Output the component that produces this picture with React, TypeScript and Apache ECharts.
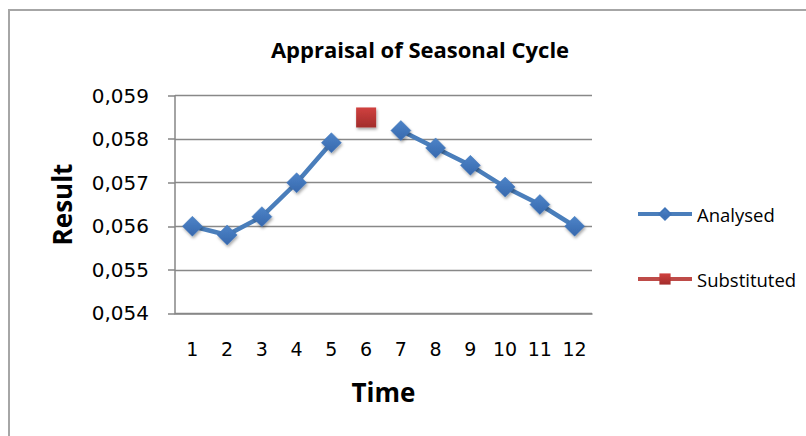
import React, { useEffect, useRef } from "react";
import * as echarts from "echarts";

const categories = ["1", "2", "3", "4", "5", "6", "7", "8", "9", "10", "11", "12"];
const analysed = [0.056, 0.0558, 0.05622, 0.057, 0.05792, null, 0.0582, 0.0578, 0.0574, 0.0569, 0.0565, 0.056];
const substituted = [null, null, null, null, null, 0.0585, null, null, null, null, null, null];
const yMin = 0.054;
const yMax = 0.059;
const yStep = 0.001;

export default function App() {
  const ref = useRef<HTMLDivElement>(null);
  useEffect(() => {
    if (!ref.current) return;
    const chart = echarts.init(ref.current, undefined, { renderer: "svg" });
    const blue = "#4a7ebb";
    chart.setOption({
      animation: false,
      backgroundColor: "#ffffff",
      graphic: [
        {
          type: "rect",
          shape: { x: 9, y: 10, width: 900, height: 500 },
          style: { fill: "none", stroke: "#a6a6a6", lineWidth: 2 },
          z: -1,
        },
      ],
      title: {
        text: "Appraisal of Seasonal Cycle",
        left: 415,
        textAlign: "center",
        top: 33,
        textStyle: { fontFamily: "Open Sans", fontWeight: "bold", fontSize: 22, color: "#000" },
      },
      grid: { left: 175, top: 95.7, right: 214, bottom: 122.7, containLabel: false },
      legend: {
        orient: "vertical",
        left: 636,
        top: 204,
        padding: 0,
        itemWidth: 54,
        itemHeight: 14,
        itemGap: 45,
        lineStyle: { width: 4 },
        textStyle: { fontFamily: "Open Sans", fontSize: 18.5, color: "#000", lineHeight: 20 },
        data: ["Analysed", "Substituted"],
      },
      xAxis: {
        type: "category",
        data: categories,
        boundaryGap: true,
        name: "Time",
        nameLocation: "middle",
        nameGap: 66,
        nameTextStyle: { fontFamily: "Open Sans", fontWeight: "bold", fontSize: 26, color: "#000" },
        axisLine: { lineStyle: { color: "#868686", width: 1.5 } },
        axisTick: { show: false },
        axisLabel: { fontFamily: "DejaVu Sans", fontSize: 19, color: "#000", margin: 26 },
        splitLine: { show: false },
      },
      yAxis: {
        type: "value",
        min: yMin,
        max: yMax,
        interval: yStep,
        name: "Result",
        nameLocation: "middle",
        nameRotate: 90,
        nameGap: 100,
        nameTextStyle: { fontFamily: "Open Sans", fontWeight: "bold", fontSize: 26, color: "#000" },
        axisLine: { show: true, lineStyle: { color: "#868686", width: 1.5 } },
        axisTick: { show: true, length: 7, lineStyle: { color: "#868686", width: 1.5 } },
        axisLabel: {
          fontFamily: "DejaVu Sans",
          fontSize: 20,
          color: "#000",
          margin: 26,
          formatter: (v: number) => v.toFixed(3).replace(".", ","),
        },
        splitLine: { show: true, lineStyle: { color: "#888888", width: 1.4 } },
      },
      series: [
        {
          name: "Analysed",
          type: "line",
          data: analysed,
          connectNulls: false,
          symbol: "diamond",
          symbolSize: 20,
          lineStyle: { color: blue, width: 4.5 },
          itemStyle: {
            color: new echarts.graphic.LinearGradient(0, 0, 0, 1, [
              { offset: 0, color: "#4d84c8" },
              { offset: 1, color: "#3768ad" },
            ]),
            borderColor: "#3f74b8",
            borderWidth: 0.5,
            shadowBlur: 3,
            shadowColor: "rgba(0,0,0,0.35)",
            shadowOffsetX: 1,
            shadowOffsetY: 2,
          },
          z: 3,
        },
        {
          name: "Substituted",
          type: "line",
          data: substituted,
          symbol: "rect",
          symbolSize: 20,
          lineStyle: { color: "#be4b48", width: 4.5 },
          itemStyle: {
            color: new echarts.graphic.LinearGradient(0, 0, 0, 1, [
              { offset: 0, color: "#d0413f" },
              { offset: 1, color: "#a22c2b" },
            ]),
            shadowBlur: 3,
            shadowColor: "rgba(0,0,0,0.35)",
            shadowOffsetX: 1,
            shadowOffsetY: 2,
          },
          z: 3,
        },
      ],
    });
    return () => chart.dispose();
  }, []);
  return (
    <div
      ref={ref}
      style={{ position: "fixed", left: 0, top: 0, width: 806, height: 436 }}
    />
  );
}
